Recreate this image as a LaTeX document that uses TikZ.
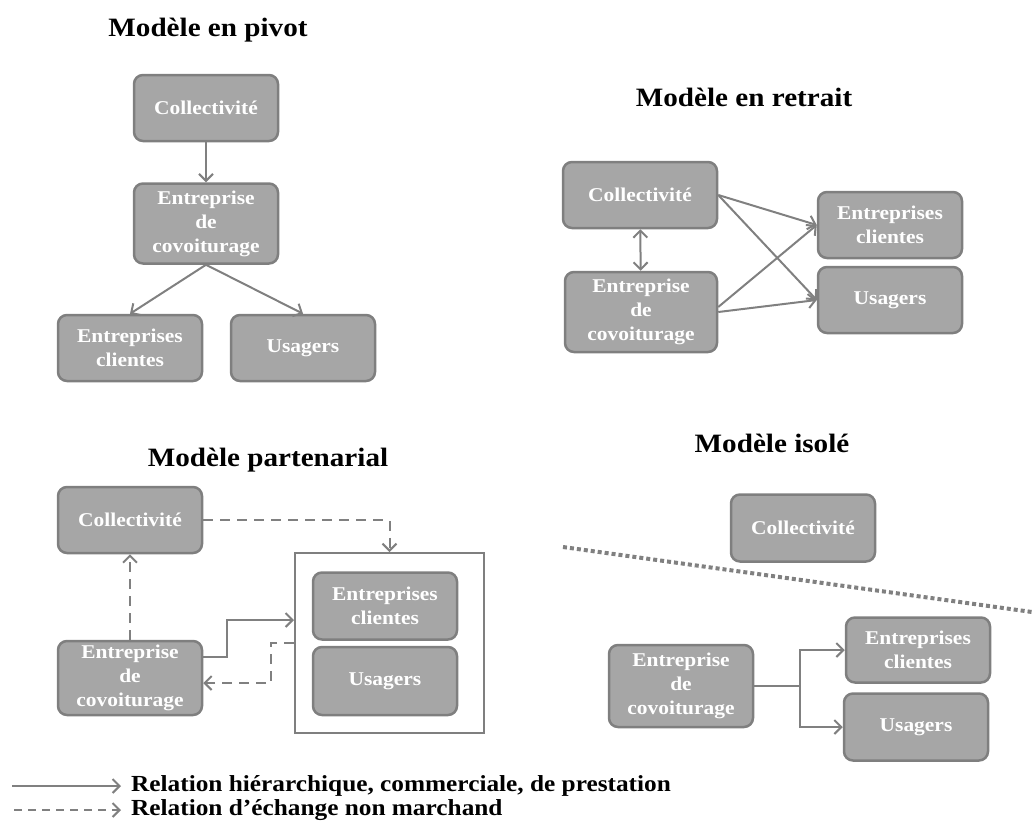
\documentclass[tikz,border=0pt]{standalone}
\usepackage{fontspec}
\setmainfont[FakeStretch=1.1]{Liberation Serif}
\usepackage{tikz}
\usetikzlibrary{arrows.meta,positioning}
\definecolor{boxfill}{HTML}{A6A6A6}
\definecolor{boxline}{HTML}{7F7F7F}
\definecolor{arrline}{HTML}{808080}
\tikzset{
  box/.style={draw=boxline, line width=2.5pt, fill=boxfill, rounded corners=9pt, text=white,
    align=center, minimum width=144pt, minimum height=66pt, inner sep=2pt,
    font=\fontsize{19.5}{24}\selectfont\bfseries},
  tallbox/.style={box, minimum height=80pt},
  title/.style={font=\fontsize{26.5}{30}\selectfont\bfseries},
  legend/.style={anchor=west, inner sep=0pt, font=\fontsize{23}{26}\selectfont\bfseries},
  arr/.style={-{Straight Barb[length=7pt,width=14pt]}, draw=arrline, line width=2pt},
  darr/.style={arr, dash pattern=on 10pt off 7pt},
  dblarr/.style={arr, {Straight Barb[length=7pt,width=14pt]}-{Straight Barb[length=7pt,width=14pt]}},
  frame/.style={draw=boxline, line width=2pt, minimum width=189pt, minimum height=180pt},
  sepline/.style={draw=arrline, line width=4pt, dash pattern=on 4pt off 3pt}
}
\begin{document}
\begin{tikzpicture}[x=1pt, y=-1pt]
  \useasboundingbox (0,0) rectangle (1032,820);
  \node[title] (tpivot) at (208,30) {Modèle en pivot};
  \node[box] (pcol) at (206,108) {Collectivité};
  \node[tallbox, below=40pt of pcol] (pent) {Entreprise\\de\\covoiturage};
  \node[box] (pcli) at (130,348) {Entreprises\\clientes};
  \node[box] (pusa) at (303,348) {Usagers};
  \draw[arr] (pcol) -- (pent);
  \draw[arr] (pent.south) -- (pcli.north);
  \draw[arr] (pent.south) -- (pusa.north);

  \node[title] (tretrait) at (744,97) {Modèle en retrait};
  \node[box, minimum width=154pt] (rcol) at (640,195) {Collectivité};
  \node[tallbox, minimum width=152pt] (rent) at (641,312) {Entreprise\\de\\covoiturage};
  \node[box] (rcli) at (890,225) {Entreprises\\clientes};
  \node[box] (rusa) at (890,300) {Usagers};
  \draw[dblarr] (rcol) -- (rent);
  \draw[arr] (rcol.east) -- (rcli.west);
  \draw[arr] (rcol.east) -- (rusa.west);
  \draw[arr] ([yshift=5pt]rent.east) -- (rcli.west);
  \draw[arr] (rent.east) -- (rusa.west);

  \node[title] (tpart) at (268,460) {Modèle partenarial};
  \node[box] (acol) at (130,520) {Collectivité};
  \node[tallbox, minimum height=74pt] (aent) at (130,678) {Entreprise\\de\\covoiturage};
  \node[frame] (agrp) at (389.5,643) {};
  \node[box, minimum height=67pt] (acli) at (385,606) {Entreprises\\clientes};
  \node[box, minimum height=68pt] (ausa) at (385,681) {Usagers};
  \draw[darr] (acol.east) -| (agrp.north);
  \draw[darr] (aent.north) -- (acol.south);
  \draw[arr] ([yshift=21pt]aent.east) -- ++(24,0) |- ([yshift=23pt]agrp.west);
  \draw[darr] (agrp.west) -- ++(-23,0) |- ([yshift=-5pt]aent.east);

  \node[title] (tiso) at (772,443) {Modèle isolé};
  \node[box, minimum height=67pt] (icol) at (803,528) {Collectivité};
  \draw[sepline] (563,547) -- (1032,612);
  \node[tallbox, minimum height=82pt] (ient) at (681,686) {Entreprise\\de\\covoiturage};
  \node[box, minimum height=65pt] (icli) at (918,650) {Entreprises\\clientes};
  \node[box, minimum height=67pt] (iusa) at (916,727) {Usagers};
  \draw[arr] (ient.east) -- ++(46,0) |- (icli.west);
  \draw[arr] (ient.east) -- ++(46,0) |- (iusa.west);

  \node[legend] (lsol) at (131,786) {Relation hiérarchique, commerciale, de prestation};
  \node[legend] (ldash) at (131,810) {Relation d’échange non marchand};
  \coordinate (lsolstart) at (12,786);
  \coordinate (ldashstart) at (14,810);
  \draw[arr] (lsolstart) -- ([xshift=-10pt]lsol.west);
  \draw[arr, dash pattern=on 8pt off 6pt] (ldashstart) -- ([xshift=-10pt]ldash.west);
\end{tikzpicture}
\end{document}
